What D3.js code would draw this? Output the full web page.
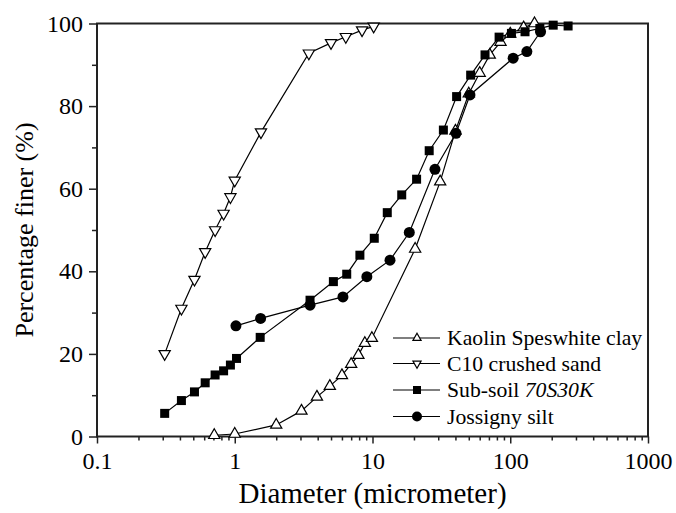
<!DOCTYPE html>
<html><head><meta charset="utf-8">
<script src="https://cdn.jsdelivr.net/npm/d3@7"></script>
</head><body>
<script>
// ---- data ----
const kaolinD = [0.71, 1.0, 2.0, 3.05, 3.95, 4.9, 6.0, 7.0, 7.9, 8.8, 9.9, 20.4, 31, 40, 50, 60, 71, 85, 100, 125, 150];
const kaolinP = [0.3, 0.6, 2.8, 6.2, 9.6, 12.2, 14.8, 17.5, 19.7, 22.6, 23.8, 45.4, 61.7, 74, 83, 88, 92.4, 95.5, 97.5, 99, 100];
const c10D = [0.31, 0.41, 0.51, 0.61, 0.72, 0.83, 0.93, 1.0, 1.55, 3.45, 5.0, 6.4, 8.4, 10.2];
const c10P = [20, 31, 38, 44.7, 50, 54, 58, 62, 73.7, 92.8, 95.3, 96.8, 98.4, 99.3];
const subD = [0.31, 0.41, 0.51, 0.61, 0.72, 0.83, 0.93, 1.03, 1.53, 3.52, 5.2, 6.5, 8.1, 10.3, 12.8, 16.3, 20.9, 25.8, 32.7, 40.8, 51.6, 65.6, 83, 102, 128, 164, 205, 263];
const subP = [5.6, 8.7, 10.8, 13, 14.9, 15.9, 17.3, 18.9, 24, 33, 37.5, 39.3, 43.9, 48, 54.2, 58.5, 62.3, 69.2, 74.2, 82.3, 87.5, 92.4, 96.7, 97.6, 98, 98.8, 99.6, 99.4];
const jossD = [1.02, 1.54, 3.52, 6.1, 9.1, 13.4, 18.5, 28.4, 40.4, 51, 105, 132, 166];
const jossP = [26.8, 28.6, 31.8, 33.8, 38.7, 42.7, 49.4, 64.7, 73.4, 82.7, 91.6, 93.2, 98];
const xTickVals = [0.1, 1, 10, 100, 1000];
const xTickLabels = ["0.1", "1", "10", "100", "1000"];
const yTickVals = [0, 20, 40, 60, 80, 100];
const seriesNames = ["Kaolin Speswhite clay", "C10 crushed sand", "Sub-soil ", "Jossigny silt"];

function draw() {
  const W = 676, H = 513;
  const m = {left: 97, right: 28, top: 23.5, bottom: 76.5};
  const ff = '"Liberation Serif"';
  const axisColor = "#222";
  d3.select("body").style("margin", "0").style("padding", "0").style("background", "#fff");
  const svg = d3.select("body").append("svg").attr("width", W).attr("height", H)
    .style("display", "block");
  const x = d3.scaleLog().domain([0.1, 1000]).range([m.left, W - m.right]);
  const y = d3.scaleLinear().domain([0, 100]).range([H - m.bottom, m.top]);

  const xMinor = [];
  for (let e = -1; e < 3; e++) for (let k = 2; k <= 9; k++) xMinor.push(k * Math.pow(10, e));
  const yMinor = [10, 30, 50, 70, 90];

  const gx = svg.append("g").attr("transform", `translate(0,${y(0)})`);
  gx.call(d3.axisBottom(x).tickValues(xMinor).tickSize(4).tickFormat(""));
  gx.select(".domain").remove();
  const gx2 = svg.append("g").attr("transform", `translate(0,${y(0)})`);
  gx2.call(d3.axisBottom(x).tickValues(xTickVals).tickSize(7).tickPadding(8)
    .tickFormat((d, i) => xTickLabels[i]));
  gx2.select(".domain").remove();

  const gy = svg.append("g").attr("transform", `translate(${x(0.1)},0)`);
  gy.call(d3.axisLeft(y).tickValues(yMinor).tickSize(5).tickFormat(""));
  gy.select(".domain").remove();
  const gy2 = svg.append("g").attr("transform", `translate(${x(0.1)},0)`);
  gy2.call(d3.axisLeft(y).tickValues(yTickVals).tickSize(8).tickPadding(6));
  gy2.select(".domain").remove();

  svg.selectAll("g").attr("font-family", null).attr("font-size", null);
  svg.selectAll(".tick line").attr("stroke", axisColor).attr("stroke-width", 1.5);
  svg.selectAll(".tick text").style("font-family", ff).attr("font-size", 24).attr("fill", "#000");

  svg.append("rect").attr("x", x(0.1)).attr("y", y(100))
    .attr("width", x(1000) - x(0.1)).attr("height", y(0) - y(100))
    .attr("fill", "none").attr("stroke", axisColor).attr("stroke-width", 2);

  svg.append("text").attr("x", (x(0.1) + x(1000)) / 2).attr("y", 503)
    .attr("text-anchor", "middle").style("font-family", ff).attr("font-size", 29)
    .text("Diameter (micrometer)");
  svg.append("text").attr("transform", `translate(33,${(y(0) + y(100)) / 2}) rotate(-90)`)
    .attr("text-anchor", "middle").style("font-family", ff).attr("font-size", 26)
    .text("Percentage finer (%)");

  function drawMarker(g, type, cx, cy, s) {
    if (type === "tri-up" || type === "tri-down") {
      g.append("path").attr("d", d3.symbol(d3.symbolTriangle, s * s * 0.45)())
        .attr("transform", `translate(${cx},${cy})` + (type === "tri-down" ? " rotate(180)" : ""))
        .attr("fill", "#fff").attr("stroke", "#000").attr("stroke-width", 1.2);
    } else if (type === "square") {
      g.append("rect").attr("x", cx - s / 2).attr("y", cy - s / 2).attr("width", s).attr("height", s)
        .attr("fill", "#000");
    } else {
      g.append("circle").attr("cx", cx).attr("cy", cy).attr("r", s / 2).attr("fill", "#000");
    }
  }

  const series = [
    {D: kaolinD, P: kaolinP, type: "tri-up", size: 11},
    {D: c10D, P: c10P, type: "tri-down", size: 11},
    {D: subD, P: subP, type: "square", size: 9},
    {D: jossD, P: jossP, type: "circle", size: 11}
  ];
  const line = d3.line().x(d => x(d[0])).y(d => y(d[1]));
  const plot = svg.append("g");
  series.forEach(s => {
    const pts = s.D.map((d, i) => [d, s.P[i]]);
    plot.append("path").datum(pts).attr("d", line).attr("fill", "none")
      .attr("stroke", "#000").attr("stroke-width", 1.2);
  });
  series.forEach(s => {
    const g = plot.append("g");
    s.D.forEach((d, i) => drawMarker(g, s.type, x(d), y(s.P[i]), s.size));
  });

  const leg = svg.append("g");
  const rowY = [338, 363.5, 390, 416.5];
  series.forEach((s, i) => {
    leg.append("line").attr("x1", 393).attr("x2", 440).attr("y1", rowY[i]).attr("y2", rowY[i])
      .attr("stroke", "#000").attr("stroke-width", 1.2);
    drawMarker(leg, s.type, 417, rowY[i], s.type === "square" ? 8 : (s.type === "circle" ? 10 : 8));
    const t = leg.append("text").attr("x", 447).attr("y", rowY[i] + 7)
      .style("font-family", ff).attr("font-size", 21.7).text(seriesNames[i]);
    if (i === 2) t.append("tspan").attr("font-style", "italic").text("70S30K");
  });
}
draw();
</script>
</body></html>
